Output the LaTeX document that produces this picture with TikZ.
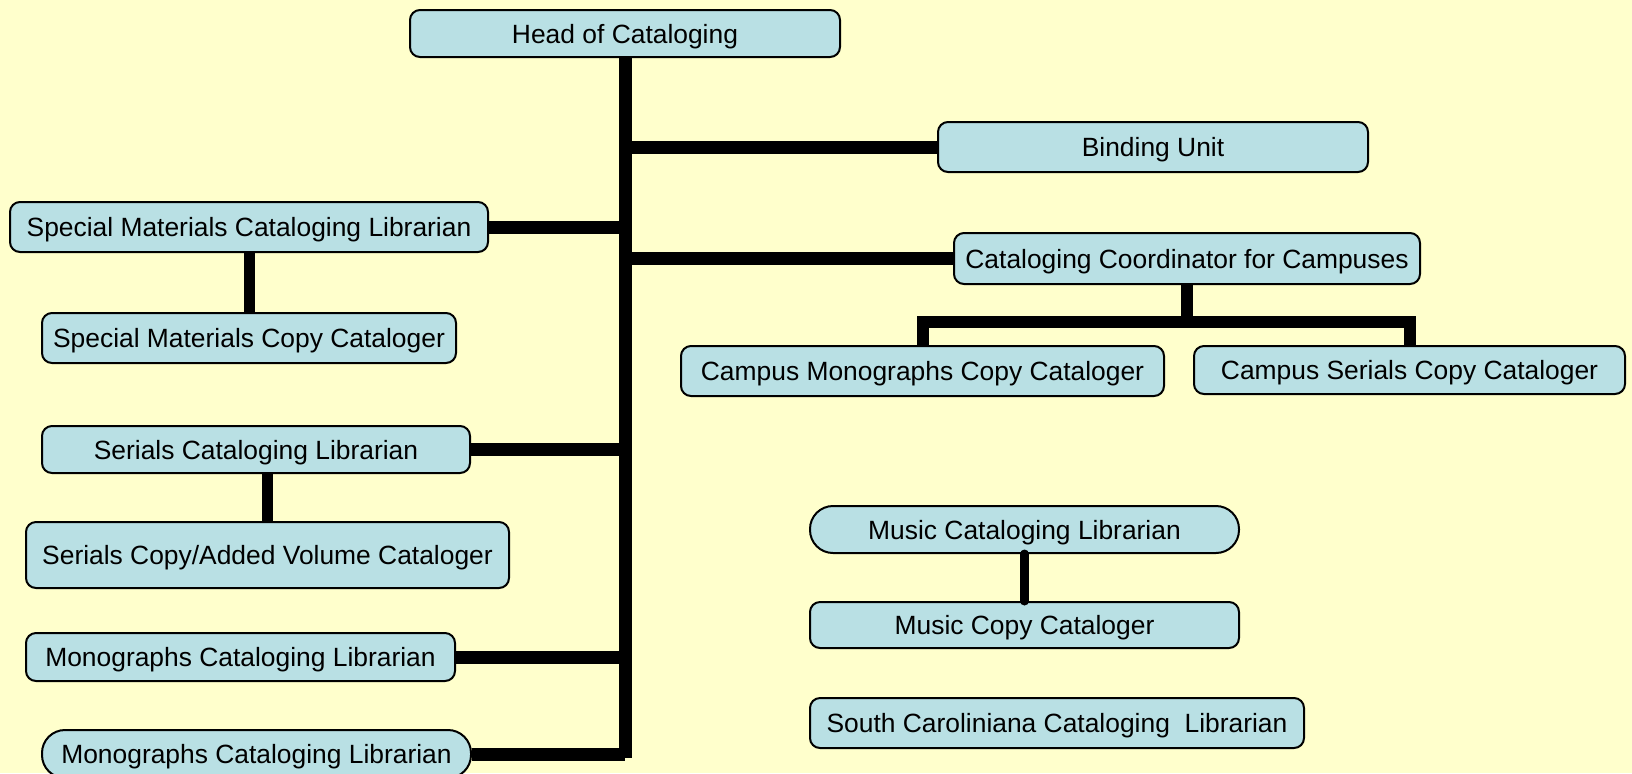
\documentclass[tikz,border=0pt]{standalone}
\usepackage{fontspec}
\setmainfont{Liberation Sans}
\definecolor{pagecream}{RGB}{255, 255, 204}
\definecolor{boxblue}{RGB}{185, 224, 228}
\usetikzlibrary{calc}

\begin{document}
\begin{tikzpicture}[x=0.5pt, y=-0.5pt,
  unit/.style={draw=black, line width=1pt, fill=boxblue, rounded corners=5pt, inner sep=0pt, align=center, text height=10pt, text depth=0.5pt, font=\fontsize{13.2}{15}\selectfont},
  pill/.style={unit, rounded corners=11.5pt},
  link/.style={draw=black, line width=6.5pt}]
  % Page
  \fill[pagecream] (0,0) rectangle (1632,773);
  \useasboundingbox (0,0) rectangle (1632,773);

  % Head and units on the right
  \node[unit, minimum width=215pt, minimum height=23.5pt] (head) at (625, 33.5) {Head of Cataloging};
  \node[unit, minimum width=215pt, minimum height=25pt] (bind) at (1153, 147) {Binding Unit};
  \node[unit, minimum width=233pt, minimum height=25.5pt] (coord) at (1187, 258.5) {Cataloging Coordinator for Campuses};
  \node[unit, minimum width=241.5pt, minimum height=25pt] (cmcc) at (922.5, 371) {Campus Monographs Copy Cataloger};
  \node[unit, minimum width=215.5pt, minimum height=24pt] (cssc) at (1409.5, 370) {Campus Serials Copy Cataloger};

  % Librarians on the left
  \node[unit, minimum width=239pt, minimum height=25pt] (smcl) at (249, 227) {Special Materials Cataloging Librarian};
  \node[unit, minimum width=207pt, minimum height=25pt] (smcc) at (249, 338) {Special Materials Copy Cataloger};
  \node[unit, minimum width=214pt, minimum height=23.5pt] (scl) at (256, 449.5) {Serials Cataloging Librarian};
  \node[unit, minimum width=241.5pt, minimum height=33pt] (scv) at (267.5, 555) {Serials Copy/Added Volume Cataloger};
  \node[unit, minimum width=214.5pt, minimum height=24pt] (mcl) at (240.5, 657) {Monographs Cataloging Librarian};
  \node[pill, minimum width=214.5pt, minimum height=24pt] (mclb) at (256.5, 754) {Monographs Cataloging Librarian};

  % Units with no line to the head
  \node[pill, minimum width=214.5pt, minimum height=23.5pt] (music) at (1024.5, 529.5) {Music Cataloging Librarian};
  \node[unit, minimum width=214.5pt, minimum height=23pt] (mucc) at (1024.5, 625) {Music Copy Cataloger};
  \node[unit, minimum width=247pt, minimum height=25pt] (scc) at (1057, 723) {South Caroliniana Cataloging\ \ Librarian};

  % Lines
  \coordinate (trunkend) at (625, 758);
  \coordinate (split) at (1187, 322);
  \draw[link] (head.south) -- (trunkend);
  \draw[link] (bind.west) -- (bind.west -| head.south);
  \draw[link] (coord.west) -- (coord.west -| head.south);
  \draw[link] (smcl.east) -- (smcl.east -| head.south);
  \draw[link] (scl.east) -- (scl.east -| head.south);
  \draw[link] (mcl.east) -- (mcl.east -| head.south);
  \draw[link] (mclb.east) -- (mclb.east -| head.south);
  \draw[link, line width=5.5pt] (smcc.north) -- (smcl.south);
  \draw[link, line width=5.5pt] (scv.north) -- (scv.north |- scl.south);
  \draw[link, line width=6pt] (coord.south) -- (split);
  \draw[link, line width=6pt] (cmcc.north) |- (split) -| (cssc.north);
  \draw[link, line width=4.5pt, line cap=round] (music.south) -- (mucc.north);
\end{tikzpicture}
\end{document}
